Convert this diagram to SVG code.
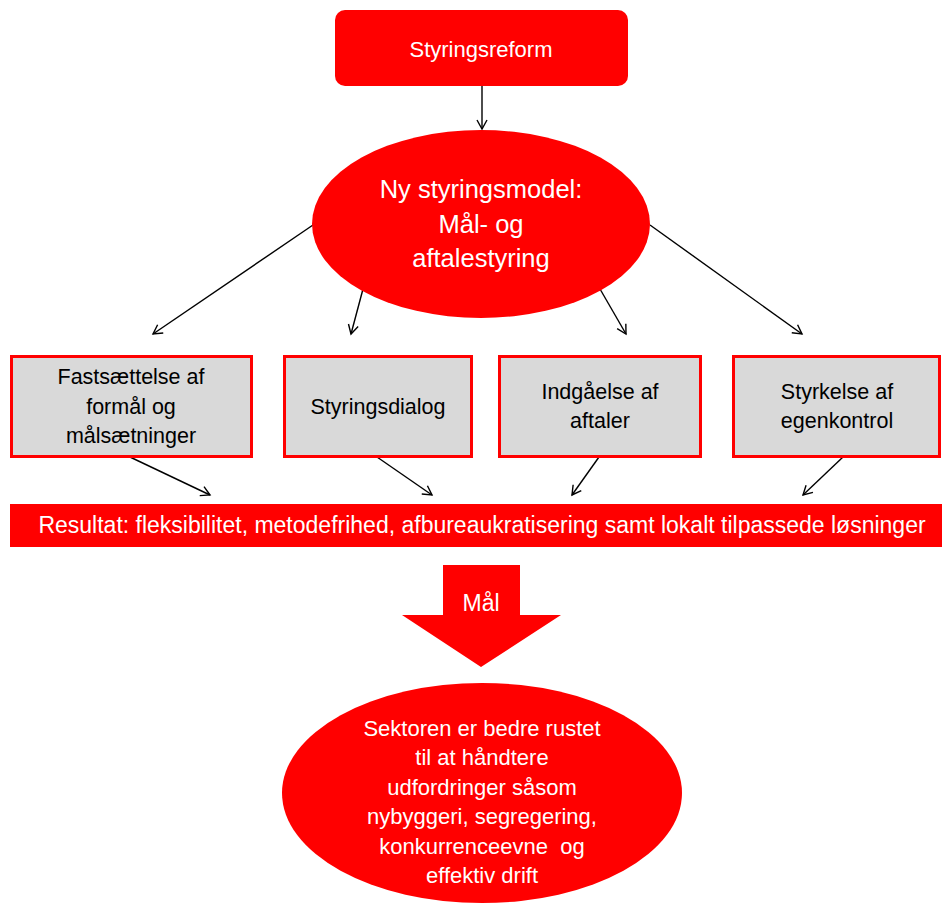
<svg xmlns="http://www.w3.org/2000/svg" width="942" height="910" viewBox="0 0 942 910">
<defs>
<marker id="ah" markerWidth="14" markerHeight="14" refX="10" refY="6" orient="auto" markerUnits="userSpaceOnUse">
<path d="M1,1 L10,6 L1,11" fill="none" stroke="#000" stroke-width="1.4"/>
</marker>
</defs>
<style>
.t{font-family:"Liberation Sans",Arial,sans-serif;text-anchor:middle}
.w{fill:#fff}
.k{fill:#000}
.red{fill:#ff0000}
.box{fill:#d9d9d9;stroke:#ff0000;stroke-width:3}
.c{stroke:#000;stroke-width:1.4;fill:none;marker-end:url(#ah)}
</style>
<rect width="942" height="910" fill="#fff"/>
<g id="connectors">
<line class="c" x1="482" y1="86" x2="482" y2="129"/>
<line class="c" x1="313" y1="225" x2="153" y2="334"/>
<line class="c" x1="363" y1="289" x2="351" y2="334"/>
<line class="c" x1="600" y1="289" x2="626" y2="334"/>
<line class="c" x1="650" y1="225" x2="802" y2="334"/>
<line class="c" x1="130" y1="457" x2="210" y2="495"/>
<line class="c" x1="377" y1="457" x2="432" y2="495"/>
<line class="c" x1="599" y1="457" x2="572" y2="495"/>
<line class="c" x1="843" y1="457" x2="803" y2="495"/>
</g>
<g id="reform">
<rect class="red" x="335" y="10" width="293" height="76" rx="10"/>
<text class="t w" x="481" y="57" font-size="22">Styringsreform</text>
</g>
<g id="model">
<ellipse class="red" cx="481" cy="224" rx="169" ry="94"/>
<text class="t w" font-size="25.5"><tspan x="481" y="198">Ny styringsmodel:</tspan><tspan x="481" y="233">Mål- og</tspan><tspan x="481" y="267">aftalestyring</tspan></text>
</g>
<g id="box1">
<rect class="box" x="11.5" y="356.5" width="240" height="100"/>
<text class="t k" font-size="21.5"><tspan x="131" y="384">Fastsættelse af</tspan><tspan x="131" y="414">formål og</tspan><tspan x="131" y="443">målsætninger</tspan></text>
</g>
<g id="box2">
<rect class="box" x="284.5" y="356.5" width="187" height="100"/>
<text class="t k" font-size="21.5" x="378" y="414">Styringsdialog</text>
</g>
<g id="box3">
<rect class="box" x="499.5" y="356.5" width="201" height="100"/>
<text class="t k" font-size="21.5"><tspan x="600" y="399">Indgåelse af</tspan><tspan x="600" y="428">aftaler</tspan></text>
</g>
<g id="box4">
<rect class="box" x="733.5" y="356.5" width="206" height="100"/>
<text class="t k" font-size="21.5"><tspan x="837" y="399">Styrkelse af</tspan><tspan x="837" y="428">egenkontrol</tspan></text>
</g>
<g id="result">
<rect class="red" x="10" y="504" width="932" height="43"/>
<text class="t w" x="482" y="533" font-size="23">Resultat: fleksibilitet, metodefrihed, afbureaukratisering samt lokalt tilpassede løsninger</text>
</g>
<g id="maal">
<polygon class="red" points="443,565 520,565 520,615 561,615 481,667 402,615 443,615"/>
<text class="t w" x="481" y="611" font-size="23">Mål</text>
</g>
<g id="goal">
<ellipse class="red" cx="482" cy="793" rx="200" ry="110"/>
<text class="t w" font-size="22"><tspan x="482" y="736">Sektoren er bedre rustet</tspan><tspan x="482" y="765">til at håndtere</tspan><tspan x="482" y="795">udfordringer såsom</tspan><tspan x="482" y="824">nybyggeri, segregering,</tspan><tspan x="482" y="854">konkurrenceevne&#160; og</tspan><tspan x="482" y="883">effektiv drift</tspan></text>
</g>
</svg>
